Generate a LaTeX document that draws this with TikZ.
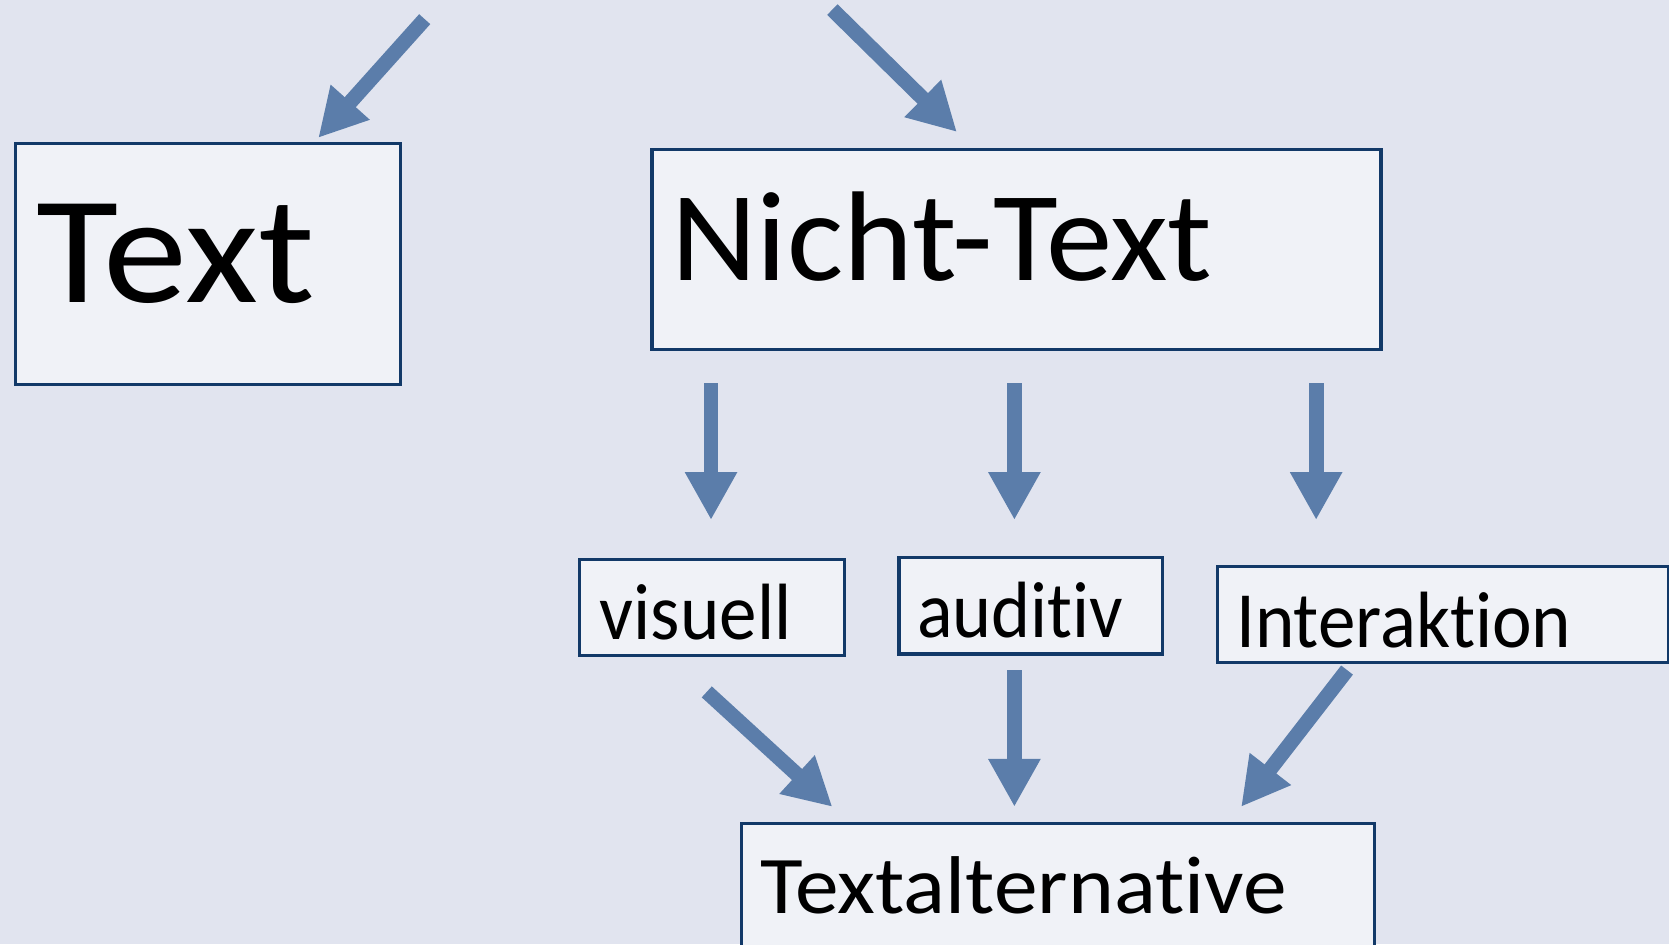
\documentclass[tikz,border=0pt]{standalone}
\usepackage{fontspec}
\setmainfont{Carlito}[Ligatures=CommonOff]
\usetikzlibrary{arrows.meta}
\definecolor{bg}{RGB}{225,228,239}
\definecolor{boxfill}{RGB}{240,242,247}
\definecolor{boxline}{RGB}{18,57,104}
\definecolor{arrowblue}{RGB}{91,125,170}

\begin{document}
\begin{tikzpicture}[x=1pt,y=-1pt,
  box/.style={draw=boxline, line width=3pt, fill=boxfill, rectangle,
    anchor=north west, inner ysep=0pt, align=left},
  blockarrow/.style={draw=arrowblue, line width=14pt,
    -{Triangle[length=45pt,width=46pt]}, arrowblue}
]
% canvas
\fill[bg] (0,0) rectangle (1568,887);
\useasboundingbox (0,0) rectangle (1568,887);

% boxes
\node[box, inner xsep=20pt, text width=322pt, text height=150pt, text depth=77pt,
  font=\fontsize{144}{150}\selectfont] (text) at (13,133) {\scalebox{1.10}[1]{Text}};
\node[box, inner xsep=18pt, text width=649pt, text height=123pt, text depth=65pt,
  font=\fontsize{120}{130}\selectfont] (nicht) at (611,139) {\scalebox{1.04}[1]{Nicht-Text}};
\node[box, inner xsep=19pt, text width=211pt, text height=75pt, text depth=15pt,
  font=\fontsize{75}{80}\selectfont] (vis) at (543,524) {\scalebox{0.94}[1]{visuell}};
\node[box, inner xsep=17pt, text width=214pt, text height=75pt, text depth=16pt,
  font=\fontsize{75}{80}\selectfont] (aud) at (843,522) {\scalebox{0.93}[1]{auditiv}};
\node[box, inner xsep=18pt, text width=388pt, text height=76pt, text depth=14pt,
  font=\fontsize{75}{80}\selectfont] (inter) at (1142,531) {\scalebox{0.94}[1]{Interaktion}};
\node[box, inner xsep=18pt, text width=559pt, text height=85pt, text depth=70pt,
  font=\fontsize{77}{82}\selectfont] (alt) at (695,772) {\scalebox{1.067}[1]{Textalternative}};

% arrow ends
\coordinate (inT) at (399,18);
\coordinate (inN) at (782,9);
\coordinate (nv) at (668,360);  \coordinate (vv) at (668,488.5);
\coordinate (na) at (953,360);  \coordinate (aa) at (953,488.5);
\coordinate (ni) at (1236.5,360); \coordinate (ii) at (1236.5,488.5);
\coordinate (va) at (664,650);  \coordinate (av) at (782,758);
\coordinate (aa2) at (953,629.5); \coordinate (aalt) at (953,758);
\coordinate (ia) at (1265.5,629.5); \coordinate (ai) at (1166,758);
\coordinate (tT) at (299,129.5);
\coordinate (tN) at (899,124);

% arrows
\draw[blockarrow] (inT) -- (tT);
\draw[blockarrow] (inN) -- (tN);
\draw[blockarrow] (nv) -- (vv);
\draw[blockarrow] (na) -- (aa);
\draw[blockarrow] (ni) -- (ii);
\draw[blockarrow] (va) -- (av);
\draw[blockarrow] (aa2) -- (aalt);
\draw[blockarrow] (ia) -- (ai);
\end{tikzpicture}
\end{document}
